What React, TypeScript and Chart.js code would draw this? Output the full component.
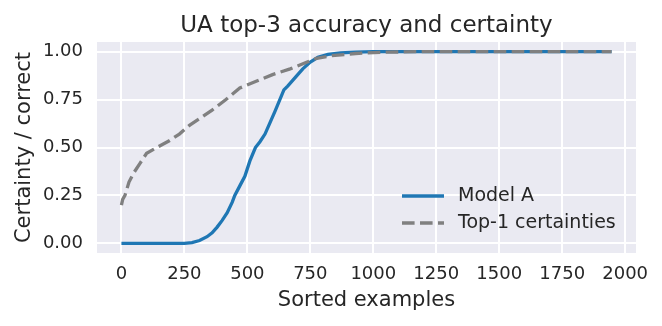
import React, { useEffect, useRef } from "react";
import { Chart, registerables } from "chart.js";

Chart.register(...registerables);

const titleText = "UA top-3 accuracy and certainty";
const xLabel = "Sorted examples";
const yLabel = "Certainty / correct";
const xTicks = [0, 250, 500, 750, 1000, 1250, 1500, 1750, 2000];
const yTicks = [0, 0.25, 0.5, 0.75, 1.0];

const modelAName = "Model A";
const modelAX = [0, 250, 280, 310, 340, 360, 380, 400, 420, 440, 450, 470, 490, 510, 532, 550, 570, 590, 610, 629, 645, 660, 680, 700, 720, 750, 780, 820, 870, 930, 1000, 1946];
const modelAY = [0, 0, 0.004, 0.015, 0.035, 0.055, 0.085, 0.12, 0.16, 0.215, 0.25, 0.3, 0.35, 0.43, 0.5, 0.53, 0.57, 0.63, 0.69, 0.75, 0.8, 0.82, 0.85, 0.88, 0.91, 0.945, 0.97, 0.985, 0.993, 0.997, 1, 1];

const top1Name = "Top-1 certainties";
const top1X = [0, 5, 14, 30, 50, 75, 100, 140, 190, 230, 270, 310, 360, 415, 470, 535, 600, 670, 735, 775, 830, 930, 1050, 1200, 1946];
const top1Y = [0.2, 0.23, 0.25, 0.32, 0.37, 0.42, 0.47, 0.5, 0.535, 0.57, 0.615, 0.65, 0.695, 0.75, 0.81, 0.845, 0.88, 0.91, 0.944, 0.965, 0.978, 0.99, 0.997, 1, 1];

const FONT = "'DejaVu Sans', sans-serif";
const TEXT = "#262626";
const BLUE = "#1f77b4";
const GRAY = "#808080";
const LW = 3.3;
const DASH = [12.6, 5.4];

export default function App() {
  const ref = useRef<HTMLCanvasElement>(null);
  useEffect(() => {
    const canvas = ref.current!;
    const bgPlugin = {
      id: "bg",
      beforeDraw(chart: any) {
        const { ctx, chartArea } = chart;
        ctx.save();
        ctx.fillStyle = "#ffffff";
        ctx.fillRect(0, 0, chart.width, chart.height);
        ctx.fillStyle = "#EAEAF2";
        ctx.fillRect(chartArea.left, chartArea.top, chartArea.right - chartArea.left, chartArea.bottom - chartArea.top);
        ctx.restore();
      },
    };
    const titlePlugin = {
      id: "ttl",
      afterDraw(chart: any) {
        const { ctx, chartArea } = chart;
        ctx.save();
        ctx.font = `23px ${FONT}`;
        ctx.fillStyle = TEXT;
        ctx.textAlign = "center";
        ctx.textBaseline = "alphabetic";
        ctx.fillText(titleText, (chartArea.left + chartArea.right) / 2, 32);
        ctx.restore();
      },
    };
    const legendPlugin = {
      id: "lgd",
      afterDraw(chart: any) {
        const { ctx, chartArea } = chart;
        ctx.save();
        ctx.font = `19px ${FONT}`;
        const items = [
          { name: modelAName, color: BLUE, dash: [] as number[] },
          { name: top1Name, color: GRAY, dash: DASH },
        ];
        const x1 = chartArea.right - 234;
        const x2 = chartArea.right - 192;
        const textX = chartArea.right - 178;
        const ys = [chartArea.bottom - 57, chartArea.bottom - 30];
        items.forEach((it, k) => {
          ctx.strokeStyle = it.color;
          ctx.lineWidth = LW;
          ctx.lineCap = "butt";
          ctx.setLineDash(it.dash);
          ctx.beginPath();
          ctx.moveTo(x1, ys[k]);
          ctx.lineTo(x2, ys[k]);
          ctx.stroke();
          ctx.setLineDash([]);
          ctx.fillStyle = TEXT;
          ctx.textAlign = "left";
          ctx.textBaseline = "middle";
          ctx.fillText(it.name, textX, ys[k]);
        });
        ctx.restore();
      },
    };
    const chart = new Chart(canvas, {
      type: "line",
      data: {
        datasets: [
          {
            label: modelAName,
            data: modelAX.map((x, i) => ({ x, y: modelAY[i] })),
            borderColor: BLUE,
            backgroundColor: BLUE,
            borderWidth: LW,
            pointRadius: 0,
            tension: 0,
            order: 1,
          },
          {
            label: top1Name,
            data: top1X.map((x, i) => ({ x, y: top1Y[i] })),
            borderColor: GRAY,
            backgroundColor: GRAY,
            borderWidth: LW,
            borderDash: DASH,
            pointRadius: 0,
            tension: 0,
            order: 0,
          },
        ],
      },
      options: {
        animation: false,
        responsive: false,
        maintainAspectRatio: false,
        layout: { padding: { top: 42, right: 26, left: 0, bottom: 0 } },
        plugins: {
          legend: { display: false },
          title: { display: false },
          tooltip: { enabled: false },
        },
        scales: {
          x: {
            type: "linear",
            min: -97,
            max: 2043,
            border: { display: false },
            grid: { color: "#ffffff", lineWidth: 2, drawTicks: false },
            afterBuildTicks: (s: any) => {
              s.ticks = xTicks.map((v) => ({ value: v }));
            },
            afterFit: (s: any) => {
              s.height = 73;
            },
            ticks: {
              padding: 11,
              color: TEXT,
              font: { family: FONT, size: 18 },
              maxRotation: 0,
              autoSkip: false,
              callback: (v: any) => String(v),
            },
            title: {
              display: true,
              text: xLabel,
              color: TEXT,
              font: { family: FONT, size: 21 },
              padding: { top: 0, bottom: 13 },
            },
          },
          y: {
            type: "linear",
            min: -0.05,
            max: 1.05,
            border: { display: false },
            grid: { color: "#ffffff", lineWidth: 2, drawTicks: false },
            afterBuildTicks: (s: any) => {
              s.ticks = yTicks.map((v) => ({ value: v }));
            },
            afterFit: (s: any) => {
              s.width = 97;
            },
            ticks: {
              padding: 14,
              color: TEXT,
              font: { family: FONT, size: 18 },
              autoSkip: false,
              callback: (v: any) => Number(v).toFixed(2),
            },
            title: {
              display: true,
              text: yLabel,
              color: TEXT,
              font: { family: FONT, size: 21 },
              padding: { top: 12, bottom: 0 },
            },
          },
        },
      },
      plugins: [bgPlugin, titlePlugin, legendPlugin],
    });
    return () => chart.destroy();
  }, []);
  return (
    <div style={{ position: "fixed", left: 0, top: 0, width: 662, height: 326, background: "#fff" }}>
      <canvas ref={ref} width={662} height={326} style={{ width: 662, height: 326, display: "block" }} />
    </div>
  );
}
